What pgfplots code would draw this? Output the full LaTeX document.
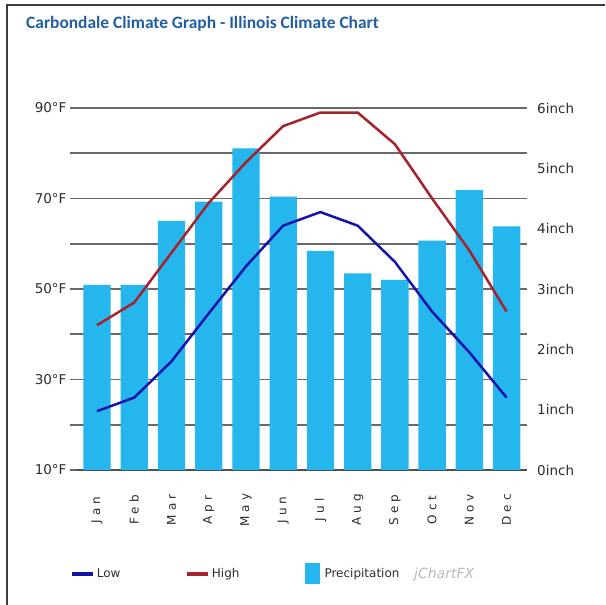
\documentclass[border=0pt]{standalone}
\usepackage{fontspec}
\setmainfont{DejaVu Sans}
\newfontfamily\titlefont{Carlito}
\newfontfamily\monfont{DejaVu Sans}[LetterSpace=35]
\usepackage{pgfplots}
\pgfplotsset{compat=1.18}
\definecolor{barblue}{RGB}{38,182,238}
\definecolor{lowblue}{RGB}{20,20,170}
\definecolor{highred}{RGB}{165,35,45}
\definecolor{gridgray}{RGB}{105,105,105}
\definecolor{titleblue}{RGB}{34,94,162}
\definecolor{labelgray}{RGB}{45,45,45}
\definecolor{framegray}{RGB}{60,60,60}
\begin{document}
\begin{tikzpicture}
\useasboundingbox (0pt,0pt) rectangle (605pt,605pt);
\fill[white] (0pt,0pt) rectangle (605pt,605pt);
\draw[line width=2pt, framegray] (7pt,0pt) -- (7pt,600pt) -- (605pt,600pt);
\node[anchor=base west, inner sep=0pt, text=titleblue, font=\titlefont\bfseries\fontsize{17.4pt}{19pt}\selectfont] at (26pt,576.5pt) {Carbondale Climate Graph - Illinois Climate Chart};

% temperature grid and labels
\begin{axis}[
  at={(77pt,135pt)}, anchor=south west, scale only axis,
  width=450pt, height=362pt,
  xmin=-0.537, xmax=11.548, ymin=10, ymax=90,
  axis x line*=bottom, axis y line*=left,
  x axis line style={draw={rgb,255:red,80;green,80;blue,80}, line width=2pt, -},
  y axis line style={draw=none},
  xtick={0,1,2,3,4,5,6,7,8,9,10,11},
  xticklabels={Jan,Feb,Mar,Apr,May,Jun,Jul,Aug,Sep,Oct,Nov,Dec},
  xtick style={draw=none},
  xticklabel style={font=\monfont\fontsize{12pt}{14pt}\selectfont, text=labelgray, yshift=-33pt, rotate=90, anchor=center},
  ytick={10,20,30,40,50,60,70,80,90},
  yticklabels={10°F,,30°F,,50°F,,70°F,,90°F},
  ymajorgrids,
  major grid style={draw=gridgray, line width=1.8pt},
  ytick style={draw=gridgray, line width=1.8pt},
  tick align=outside, major tick length=7pt,
  yticklabel style={font=\fontsize{13.5pt}{15pt}\selectfont, text=labelgray},
]
\end{axis}

% precipitation bars
\begin{axis}[
  at={(77pt,135pt)}, anchor=south west, scale only axis,
  width=450pt, height=362pt,
  xmin=-0.537, xmax=11.548, ymin=0, ymax=6,
  axis x line=none, axis y line*=right,
  y axis line style={draw=none},
  ytick={0,1,2,3,4,5,6},
  yticklabels={0inch,1inch,2inch,3inch,4inch,5inch,6inch},
  ytick style={draw=none}, major tick length=0pt,
  yticklabel style={font=\fontsize{13.5pt}{15pt}\selectfont, text=labelgray, xshift=6.7pt},
  legend columns=3,
  legend style={at={(axis description cs:-0.022,-0.287)}, anchor=west, draw=none, fill=none,
    font=\fontsize{12pt}{14pt}\selectfont, text=labelgray,
    /tikz/every even column/.append style={column sep=63pt}},
]
\addlegendimage{legend image code/.code={\draw[lowblue, line width=3.5pt] (0pt,0pt) -- (21pt,0pt);}}
\addlegendentry{Low}
\addlegendimage{legend image code/.code={\draw[highred, line width=3.5pt] (0pt,0pt) -- (21pt,0pt);}}
\addlegendentry{High}
\addplot[ybar, bar width=27.3pt, fill=barblue, draw=none,
  legend image code/.code={\fill[barblue] (0pt,-10.5pt) rectangle (15pt,10.5pt);}]
  coordinates {(0,3.07) (1,3.07) (2,4.13) (3,4.45) (4,5.33) (5,4.53) (6,3.63) (7,3.26) (8,3.15) (9,3.80) (10,4.64) (11,4.04)};
\addlegendentry{\hspace{3pt}Precipitation}
\end{axis}

% temperature lines
\begin{axis}[
  at={(77pt,135pt)}, anchor=south west, scale only axis,
  width=450pt, height=362pt,
  xmin=-0.537, xmax=11.548, ymin=10, ymax=90,
  hide axis,
]
\addplot[lowblue, line width=2.5pt, line join=round, sharp plot, no markers]
  coordinates {(0,23) (1,26) (2,34) (3,44.6) (4,55) (5,64) (6,67) (7,64) (8,56) (9,45) (10,36) (11,26)};
\addplot[highred, line width=2.5pt, line join=round, sharp plot, no markers]
  coordinates {(0,42) (1,47) (2,58) (3,69) (4,78) (5,86) (6,89) (7,89) (8,82) (9,70) (10,58.5) (11,45)};
\end{axis}

\node[anchor=base west, inner sep=0pt, text=gray!55, font=\itshape\fontsize{14pt}{16pt}\selectfont] at (414pt,26pt) {jChartFX};
\end{tikzpicture}
\end{document}
